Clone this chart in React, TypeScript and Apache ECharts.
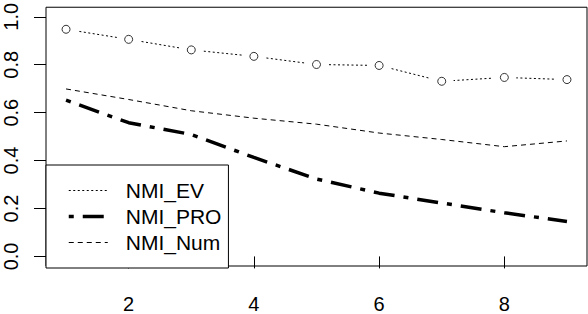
import React, { useEffect, useRef } from "react";
import * as echarts from "echarts";

const xValues = [1, 2, 3, 4, 5, 6, 7, 8, 9];
const nmiEV = [0.948, 0.906, 0.862, 0.835, 0.801, 0.797, 0.731, 0.747, 0.738];
const nmiPRO = [0.652, 0.558, 0.509, 0.413, 0.323, 0.264, 0.223, 0.182, 0.146];
const nmiNum = [0.699, 0.655, 0.608, 0.577, 0.552, 0.515, 0.488, 0.458, 0.482];
const yTicks = [0, 0.2, 0.4, 0.6, 0.8, 1.0];
const xTicks = [2, 4, 6, 8];
const seriesNames = ["NMI_EV", "NMI_PRO", "NMI_Num"];

const FONT = "Liberation Sans, Arial, Helvetica, sans-serif";

export default function App() {
  const ref = useRef<HTMLDivElement>(null);
  useEffect(() => {
    document.body.style.margin = "0";
    if (!ref.current) return;
    const chart = echarts.init(ref.current, null, { renderer: "svg" });
    const pairs = (ys: number[]) => xValues.map((x, i) => [x, ys[i]]);
    chart.setOption({
      animation: false,
      backgroundColor: "#fff",
      grid: {
        left: 46,
        right: 1,
        top: 3,
        bottom: 46,
        show: true,
        borderColor: "#000",
        borderWidth: 1,
        backgroundColor: "transparent",
      },
      xAxis: {
        type: "value",
        min: 0.68,
        max: 9.32,
        axisLine: { show: false },
        splitLine: { show: false },
        axisTick: {
          show: true,
          length: 12,
          inside: false,
          customValues: xTicks,
          lineStyle: { color: "#000", width: 1 },
        },
        axisLabel: {
          customValues: xTicks,
          color: "#000",
          fontSize: 20,
          fontFamily: FONT,
          margin: 28,
          formatter: (v: number) => String(v),
        },
      },
      yAxis: {
        type: "value",
        min: -0.04,
        max: 1.04,
        axisLine: { show: false },
        splitLine: { show: false },
        axisTick: {
          show: true,
          length: 12,
          inside: false,
          customValues: yTicks,
          lineStyle: { color: "#000", width: 1 },
        },
        axisLabel: {
          customValues: yTicks,
          color: "#000",
          fontSize: 20,
          fontFamily: FONT,
          rotate: 90,
          margin: 25,
          formatter: (v: number) => v.toFixed(1),
        },
      },
      legend: {
        data: seriesNames,
        orient: "vertical",
        left: 46,
        top: 165,
        padding: [14.5, 7, 14.5, 21],
        itemWidth: 39,
        itemHeight: 14,
        itemGap: 4,
        borderColor: "#000",
        borderWidth: 1,
        backgroundColor: "#fff",
        selectedMode: false,
        itemStyle: { opacity: 0 },
        lineStyle: { width: "inherit", type: "inherit", color: "inherit" },
        textStyle: {
          color: "#000",
          fontSize: 21,
          fontFamily: FONT,
          lineHeight: 22,
          padding: [0, 0, 0, 13],
        },
      },
      series: [
        {
          name: "NMI_EV",
          type: "line",
          data: pairs(nmiEV),
          symbol: "circle",
          symbolSize: 24,
          itemStyle: { color: "#fff", borderWidth: 0 },
          lineStyle: { color: "#000", width: 1, type: [2, 2.5], cap: "butt" },
          z: 2,
        },
        {
          name: "EV_points",
          type: "scatter",
          data: pairs(nmiEV),
          symbol: "circle",
          symbolSize: 8,
          itemStyle: { color: "#fff", borderColor: "#000", borderWidth: 1 },
          z: 3,
        },
        {
          name: "NMI_PRO",
          type: "line",
          data: pairs(nmiPRO),
          showSymbol: false,
          symbol: "none",
          lineStyle: { color: "#000", width: 3.5, type: [5, 9, 21, 9], cap: "butt" },
          z: 2,
        },
        {
          name: "NMI_Num",
          type: "line",
          data: pairs(nmiNum),
          showSymbol: false,
          symbol: "none",
          lineStyle: { color: "#000", width: 1, type: [5, 4], cap: "butt" },
          z: 2,
        },
      ],
    });
    return () => chart.dispose();
  }, []);
  return (
    <div
      ref={ref}
      style={{ position: "absolute", left: 0, top: 0, width: 588, height: 314 }}
    />
  );
}
